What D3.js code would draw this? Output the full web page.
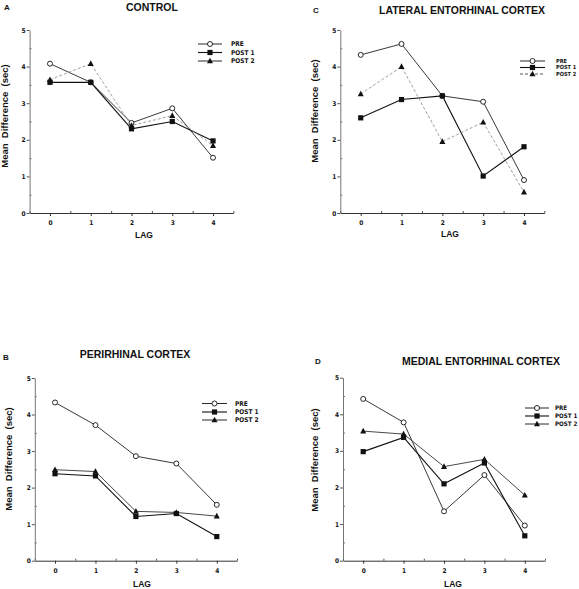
<!DOCTYPE html>
<html><head><meta charset="utf-8">
<script src="https://cdn.jsdelivr.net/npm/d3@7"></script>
<style>
body{margin:0;background:#fff;}
svg{display:block;}
text{font-family:"Liberation Sans","Arial",sans-serif;font-weight:bold;fill:#111;}
</style></head>
<body>
<script>
const lags = [0, 1, 2, 3, 4];
const yTicks = [0, 1, 2, 3, 4, 5];
const seriesNames = ["PRE", "POST 1", "POST 2"];
const panelLetters = ["A", "C", "B", "D"];
const panelTitles = ["CONTROL", "LATERAL ENTORHINAL CORTEX", "PERIRHINAL CORTEX", "MEDIAL ENTORHINAL CORTEX"];
// values per panel: [PRE, POST1, POST2]
const controlPre   = [4.08, 3.57, 2.46, 2.86, 1.51];
const controlPost1 = [3.57, 3.57, 2.30, 2.50, 1.97];
const controlPost2 = [3.64, 4.08, 2.39, 2.66, 1.84];
const lateralPre   = [4.32, 4.62, 3.20, 3.04, 0.90];
const lateralPost1 = [2.60, 3.10, 3.20, 1.01, 1.81];
const lateralPost2 = [3.25, 4.00, 1.95, 2.48, 0.57];
const perirhinalPre   = [4.33, 3.71, 2.86, 2.66, 1.53];
const perirhinalPost1 = [2.38, 2.32, 1.21, 1.29, 0.66];
const perirhinalPost2 = [2.49, 2.44, 1.35, 1.32, 1.22];
const medialPre   = [4.42, 3.78, 1.35, 2.34, 0.96];
const medialPost1 = [2.98, 3.37, 2.10, 2.67, 0.68];
const medialPost2 = [3.54, 3.46, 2.57, 2.77, 1.79];

const panelData = [
  [controlPre, controlPost1, controlPost2],
  [lateralPre, lateralPost1, lateralPost2],
  [perirhinalPre, perirhinalPost1, perirhinalPost2],
  [medialPre, medialPost1, medialPost2]
];

const condFont = '"DejaVu Sans Condensed","Liberation Sans Narrow","Liberation Sans",sans-serif';

// layout (pixels)
const layouts = [
  {x0:29.6, x1:233.4, y0:213, y1:30, letter:[4,10], title:[152,11], ylab:[8,116], lag:[144,238],
   leg:{lx:198, lw:24, tx:231, ys:[44,52.5,61], fs:6.5}, dashed2:true, dashedLeg:false},
  {x0:340.3, x1:544.4, y0:213, y1:30, letter:[313,13], title:[462,14], ylab:[318,111], lag:[450,237],
   leg:{lx:520, lw:25, tx:556, ys:[61,67.5,74], fs:5.6}, dashed2:true, dashedLeg:true},
  {x0:34.8, x1:237, y0:560.7, y1:378, letter:[3,360], title:[135,358], ylab:[12,459], lag:[142,587],
   leg:{lx:202, lw:25, tx:235, ys:[403.5,412,420], fs:6.5}, dashed2:false, dashedLeg:false},
  {x0:343, x1:545, y0:560.7, y1:377.7, letter:[315,364], title:[481,365], ylab:[318,460], lag:[453,587],
   leg:{lx:525, lw:24, tx:555, ys:[408,416,424], fs:6.2}, dashed2:false, dashedLeg:false}
];

const svg = d3.select("body").append("svg").attr("width", 579).attr("height", 589);

layouts.forEach((L, pi) => {
  const g = svg.append("g");
  const x = d3.scaleLinear().domain([-0.5, 4.5]).range([L.x0, L.x1]);
  const y = d3.scaleLinear().domain([0, 5]).range([L.y0, L.y1]);

  // axes
  const xAxis = d3.axisBottom(x).tickValues(lags).tickSize(3).tickFormat(d3.format("d")).tickSizeOuter(0);
  const gx = g.append("g").attr("transform", `translate(0,${L.y0})`).call(xAxis);
  gx.select(".domain").attr("stroke", "#333").attr("stroke-width", 1);
  gx.selectAll(".tick line").attr("stroke", "#333");
  gx.selectAll(".tick text").attr("dy", "0.9em").style("font-size", "6.5px").style("font-family", condFont).style("font-weight", "bold").attr("fill", "#111");
  const xMinor = d3.axisBottom(x).tickValues([-0.5, 0.5, 1.5, 2.5, 3.5, 4.5]).tickSize(-2).tickFormat("");
  const gxm = g.append("g").attr("transform", `translate(0,${L.y0})`).call(xMinor);
  gxm.select(".domain").remove();
  gxm.selectAll(".tick line").attr("stroke", "#555");

  const yAxis = d3.axisLeft(y).tickValues(yTicks).tickSize(3).tickFormat(d3.format("d")).tickSizeOuter(0);
  const gy = g.append("g").attr("transform", `translate(${L.x0},0)`).call(yAxis);
  gy.select(".domain").attr("stroke", "#666").attr("stroke-width", 0.9);
  gy.selectAll(".tick line").attr("stroke", "#555");
  gy.selectAll(".tick text").attr("x", -4).style("font-size", "6.5px").style("font-family", condFont).style("font-weight", "bold").attr("fill", "#111");
  const yMinor = d3.axisLeft(y).tickValues([0.5, 1.5, 2.5, 3.5, 4.5]).tickSize(-2).tickFormat("");
  const gym = g.append("g").attr("transform", `translate(${L.x0},0)`).call(yMinor);
  gym.select(".domain").remove();
  gym.selectAll(".tick line").attr("stroke", "#777");

  // texts
  g.append("text").attr("x", L.letter[0]).attr("y", L.letter[1]).style("font-size", "8px").text(panelLetters[pi]);
  g.append("text").attr("x", L.title[0]).attr("y", L.title[1]).attr("text-anchor", "middle").style("font-size", "10.5px").text(panelTitles[pi]);
  g.append("text").attr("transform", `translate(${L.ylab[0]},${L.ylab[1]}) rotate(-90)`).attr("text-anchor", "middle")
    .style("font-size", "9.5px").style("white-space", "pre").text("Mean  Difference  (sec)");
  g.append("text").attr("x", L.lag[0]).attr("y", L.lag[1]).attr("text-anchor", "middle").style("font-size", "8.5px").text("LAG");

  // series
  const line = d3.line().x((d, i) => x(lags[i])).y(d => y(d));
  const styles = [
    {stroke:"#222", w:0.9, dash:null},
    {stroke:"#111", w:1.1, dash:null},
    L.dashed2 ? {stroke:"#888", w:0.8, dash:"3,2"} : {stroke:"#333", w:0.9, dash:null}
  ];
  panelData[pi].forEach((vals, si) => {
    const st = styles[si];
    g.append("path").datum(vals).attr("d", line).attr("fill", "none")
      .attr("stroke", st.stroke).attr("stroke-width", st.w).attr("stroke-dasharray", st.dash);
  });
  const drawMarker = (sel, si, cx, cy) => {
    if (si === 0) sel.append("circle").attr("cx", cx).attr("cy", cy).attr("r", 2.5).attr("fill", "#fff").attr("stroke", "#111").attr("stroke-width", 0.9);
    else if (si === 1) sel.append("rect").attr("x", cx - 2.6).attr("y", cy - 2.6).attr("width", 5.2).attr("height", 5.2).attr("fill", "#111");
    else sel.append("path").attr("d", `M${cx},${cy - 3.3}L${cx + 3},${cy + 2.3}L${cx - 3},${cy + 2.3}Z`).attr("fill", "#111");
  };
  panelData[pi].forEach((vals, si) => {
    vals.forEach((v, i) => drawMarker(g, si, x(lags[i]), y(v)));
  });

  // legend
  const lg = L.leg;
  seriesNames.forEach((name, si) => {
    const yy = lg.ys[si];
    const ln = g.append("line").attr("x1", lg.lx).attr("x2", lg.lx + lg.lw).attr("y1", yy).attr("y2", yy)
      .attr("stroke", "#111").attr("stroke-width", si === 1 ? 1.1 : 0.9);
    if (L.dashedLeg && si === 2) ln.attr("stroke-dasharray", "3,2").attr("stroke", "#444");
    drawMarker(g, si, lg.lx + lg.lw / 2, yy);
    g.append("text").attr("x", lg.tx).attr("y", yy).attr("dy", "0.35em")
      .style("font-size", lg.fs + "px").style("font-family", condFont).text(name);
  });
});
</script>
</body></html>
